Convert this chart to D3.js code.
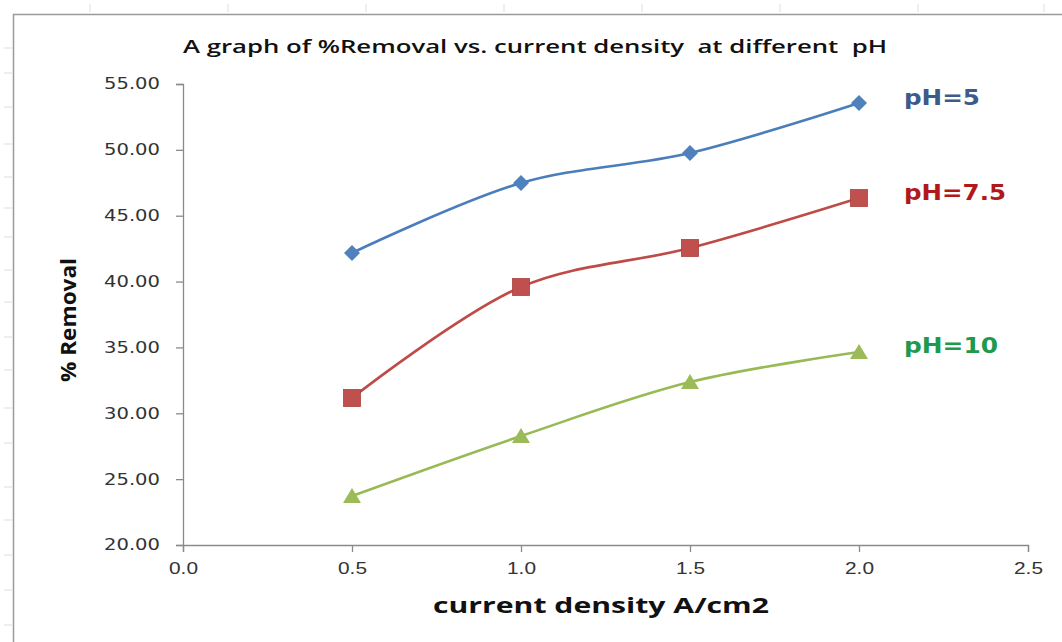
<!DOCTYPE html>
<html><head><meta charset="utf-8">
<script src="https://cdn.jsdelivr.net/npm/d3@7"></script>
<style>body{margin:0;background:#fff}svg{display:block}</style>
</head><body>
<svg id="c" width="1062" height="642"></svg>
<script>
const xValues = [0.5, 1.0, 1.5, 2.0];
const ph5 = [42.17, 47.48, 49.76, 53.56];
const ph75 = [31.16, 39.59, 42.55, 46.34];
const ph10 = [23.72, 28.27, 32.37, 34.65];
const seriesNames = ["pH=5", "pH=7.5", "pH=10"];
const xTicks = [0.0, 0.5, 1.0, 1.5, 2.0, 2.5];
const yTicks = [20, 25, 30, 35, 40, 45, 50, 55];

const svg = d3.select("#c");
const x = d3.scaleLinear().domain([0, 2.5]).range([183, 1028]);
const y = d3.scaleLinear().domain([20, 55]).range([545, 84]);

// faint spreadsheet gridline stubs
const gTop = [90, 228, 366, 504, 642, 780, 918, 1044];
svg.selectAll(".gt").data(gTop).join("line")
  .attr("x1", d => d).attr("x2", d => d).attr("y1", 4).attr("y2", 12)
  .attr("stroke", "#ddd").attr("stroke-width", 1);
const gLeft = [48, 73, 107, 144, 177, 208, 237, 270, 302, 337, 370, 408, 443, 487, 520, 555, 590, 625];
svg.selectAll(".gl").data(gLeft).join("line")
  .attr("x1", 4).attr("x2", 12).attr("y1", d => d).attr("y2", d => d)
  .attr("stroke", "#ddd").attr("stroke-width", 1);

// chart border
svg.append("path").attr("d", "M13.5,660 L13.5,14.5 L1080,14.5")
  .attr("fill", "none").attr("stroke", "#9a9a9a").attr("stroke-width", 1.5);

// axes
const yAxis = d3.axisLeft(y).tickValues(yTicks).tickSize(7).tickFormat(d3.format(".2f"));
const gy = svg.append("g").attr("transform", "translate(183,0)").call(yAxis);
gy.select(".domain").attr("stroke", "#8a8a8a").attr("stroke-width", 1.3);
gy.selectAll(".tick line").attr("stroke", "#8a8a8a").attr("stroke-width", 1.3);
gy.selectAll(".tick text").attr("x", -23).attr("font-family", "DejaVu Sans, Verdana, sans-serif")
  .attr("font-size", 15.5).attr("textLength", 56).attr("lengthAdjust", "spacingAndGlyphs").attr("fill", "#333");

const xAxis = d3.axisBottom(x).tickValues(xTicks).tickSize(7).tickFormat(d3.format(".1f"));
const gx = svg.append("g").attr("transform", "translate(0,545)").call(xAxis);
gx.select(".domain").attr("stroke", "#8a8a8a").attr("stroke-width", 1.3);
gx.selectAll(".tick line").attr("stroke", "#8a8a8a").attr("stroke-width", 1.3);
gx.selectAll(".tick text").attr("y", 17).attr("font-family", "Liberation Sans, Arial, sans-serif")
  .attr("font-size", 17).attr("textLength", 29).attr("lengthAdjust", "spacingAndGlyphs").attr("fill", "#333");

// series
const series = [
  {name: seriesNames[0], vals: ph5, line: "#4a7ebb", fill: "#4f81bd", shape: "diamond", text: "#3d5a8a", ly: 105, w: 76},
  {name: seriesNames[1], vals: ph75, line: "#be4b48", fill: "#c0504d", shape: "square", text: "#b0181c", ly: 200, w: 102},
  {name: seriesNames[2], vals: ph10, line: "#98b954", fill: "#9bbb59", shape: "triangle", text: "#1e9a4e", ly: 353, w: 94}
];
const line = d3.line().x(d => x(d[0])).y(d => y(d[1])).curve(d3.curveCatmullRom.alpha(0.5));

series.forEach(s => {
  const pts = xValues.map((v, i) => [v, s.vals[i]]);
  svg.append("path").datum(pts).attr("d", line)
    .attr("fill", "none").attr("stroke", s.line).attr("stroke-width", 2.6);
  const g = svg.append("g");
  pts.forEach(p => {
    const cx = x(p[0]), cy = y(p[1]);
    if (s.shape === "diamond") {
      g.append("path").attr("d", `M${cx},${cy-8} L${cx+8},${cy} L${cx},${cy+8} L${cx-8},${cy} Z`).attr("fill", s.fill);
    } else if (s.shape === "square") {
      g.append("rect").attr("x", cx-8.5).attr("y", cy-8.5).attr("width", 17).attr("height", 17)
        .attr("fill", s.fill).attr("stroke", "#a84340").attr("stroke-width", 0.8);
    } else {
      g.append("path").attr("d", `M${cx},${cy-8} L${cx+9},${cy+7} L${cx-9},${cy+7} Z`).attr("fill", s.fill);
    }
  });
  svg.append("text").attr("x", 904).attr("y", s.ly).text(s.name)
    .attr("font-family", "DejaVu Sans, Verdana, sans-serif").attr("font-weight", "bold")
    .attr("font-size", 21).attr("textLength", s.w).attr("lengthAdjust", "spacingAndGlyphs").attr("fill", s.text);
});

// titles
svg.append("text").attr("x", 535).attr("y", 53).attr("text-anchor", "middle")
  .attr("font-family", "Open Sans, sans-serif").attr("font-weight", 600).attr("font-size", 18)
  .attr("textLength", 704).attr("lengthAdjust", "spacingAndGlyphs").attr("fill", "#111")
  .style("white-space", "pre")
  .text("A graph of %Removal vs. current density  at different  pH");
svg.append("text").attr("x", 601).attr("y", 613).attr("text-anchor", "middle")
  .attr("font-family", "Open Sans, sans-serif").attr("font-weight", "bold").attr("font-size", 22)
  .attr("textLength", 336).attr("lengthAdjust", "spacingAndGlyphs").attr("fill", "#111")
  .text("current density A/cm2");
svg.append("text").attr("transform", "translate(76,320) rotate(-90)").attr("text-anchor", "middle")
  .attr("font-family", "Open Sans, sans-serif").attr("font-weight", "bold").attr("font-size", 22)
  .attr("textLength", 124).attr("lengthAdjust", "spacingAndGlyphs").attr("fill", "#111")
  .text("% Removal");
</script>
</body></html>
